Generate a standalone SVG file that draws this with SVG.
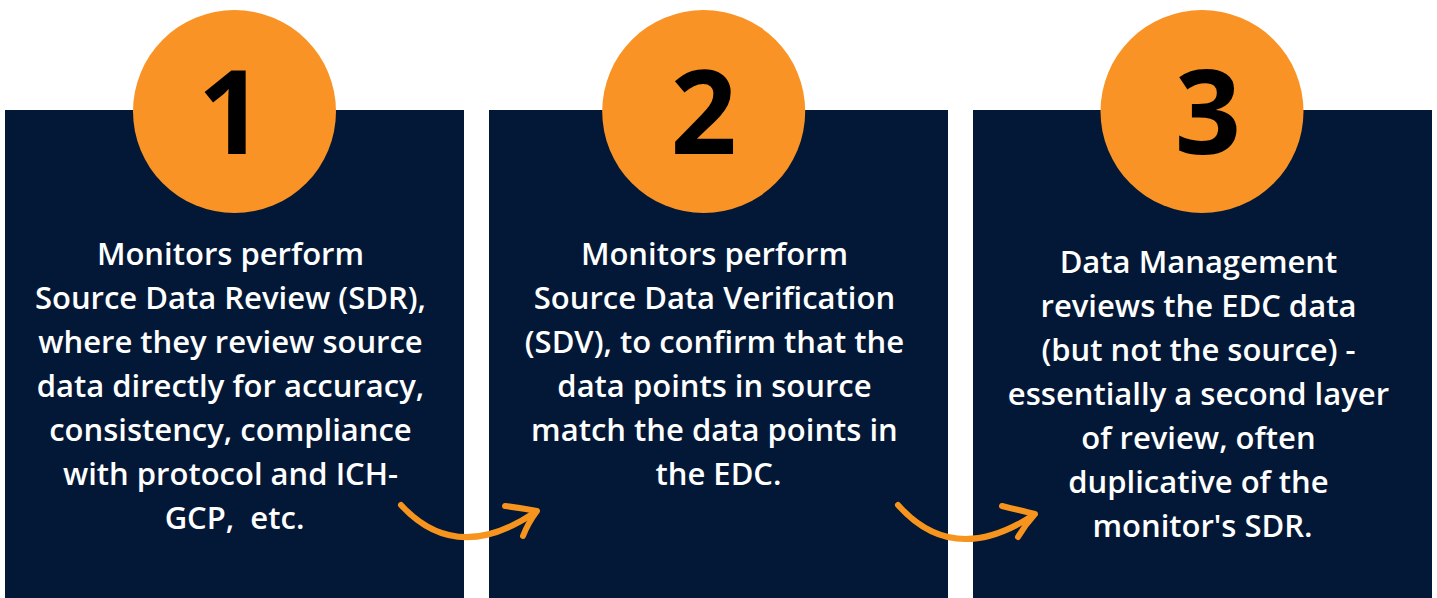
<svg xmlns="http://www.w3.org/2000/svg" width="1437" height="598" viewBox="0 0 1437 598">
  <style>
    .panel { fill: #021836; }
    .badge { fill: #FA9325; }
    .num { font-family: "Open Sans", "DejaVu Sans", sans-serif; font-weight: 700; font-size: 116px; fill: #000000; text-anchor: middle; }
    .body { font-family: "Open Sans", "DejaVu Sans", sans-serif; font-weight: 600; font-size: 31px; fill: #FFFFFF; text-anchor: middle; }
    .arrow { fill: none; stroke: #F7941D; stroke-width: 6; stroke-linecap: round; stroke-linejoin: round; }
  </style>
  <rect x="0" y="0" width="1437" height="598" fill="#FFFFFF"/>

  <g id="step1">
    <rect class="panel" x="5" y="110" width="459" height="488"/>
    <circle class="badge" cx="234.5" cy="111.5" r="101.5"/>
    <text class="num" x="231" y="154">1</text>
    <text class="body">
      <tspan x="234.5" y="265">Monitors perform</tspan>
      <tspan x="234.5" y="309">Source Data Review (SDR),</tspan>
      <tspan x="234.5" y="353">where they review source</tspan>
      <tspan x="234.5" y="397">data directly for accuracy,</tspan>
      <tspan x="234.5" y="441">consistency, compliance</tspan>
      <tspan x="234.5" y="485">with protocol and ICH-</tspan>
      <tspan x="234.5" y="529">GCP,&#160; etc.</tspan>
    </text>
  </g>

  <g id="step2">
    <rect class="panel" x="489" y="110" width="459" height="488"/>
    <circle class="badge" cx="703.7" cy="111.5" r="101.5"/>
    <text class="num" x="703.7" y="154">2</text>
    <text class="body">
      <tspan x="718.5" y="265">Monitors perform</tspan>
      <tspan x="718.5" y="309">Source Data Verification</tspan>
      <tspan x="718.5" y="353">(SDV), to confirm that the</tspan>
      <tspan x="718.5" y="397">data points in source</tspan>
      <tspan x="718.5" y="441">match the data points in</tspan>
      <tspan x="718.5" y="485">the EDC.</tspan>
    </text>
  </g>

  <g id="step3">
    <rect class="panel" x="973" y="110" width="459" height="488"/>
    <circle class="badge" cx="1202" cy="111.5" r="101.5"/>
    <text class="num" x="1208" y="154">3</text>
    <text class="body">
      <tspan x="1202.5" y="273">Data Management</tspan>
      <tspan x="1202.5" y="317">reviews the EDC data</tspan>
      <tspan x="1202.5" y="361">(but not the source) -</tspan>
      <tspan x="1202.5" y="405">essentially a second layer</tspan>
      <tspan x="1202.5" y="449">of review, often</tspan>
      <tspan x="1202.5" y="493">duplicative of the</tspan>
      <tspan x="1202.5" y="537">monitor's SDR.</tspan>
    </text>
  </g>

  <g id="connectors">
    <path class="arrow" d="M 401 505 Q 456 565 534 513"/>
    <path class="arrow" d="M 505 506 Q 521 508 537 511 Q 528 523 523 536"/>
    <path class="arrow" d="M 898 505 Q 953 567 1032 516"/>
    <path class="arrow" d="M 1002 506 Q 1018 510 1035 514 Q 1025 525 1018 537"/>
  </g>
</svg>
